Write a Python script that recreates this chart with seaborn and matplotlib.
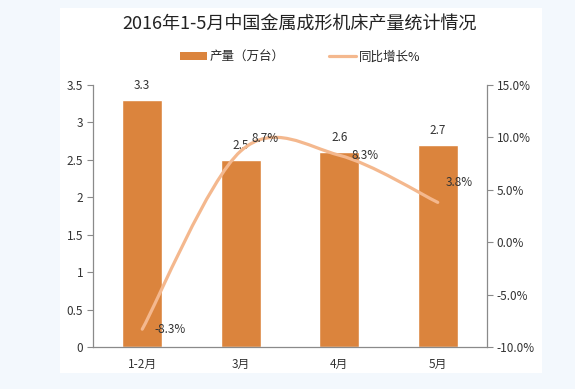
import numpy as np
import pandas as pd
import seaborn as sns
import matplotlib.pyplot as plt
from matplotlib.path import Path
from matplotlib.patches import PathPatch, Patch, Rectangle
from matplotlib.lines import Line2D

months = ['1-2月', '3月', '4月', '5月']
output = [3.3, 2.5, 2.6, 2.7]
growth = [-8.3, 8.7, 8.3, 3.8]

bar_color = '#db843d'
line_color = '#f4b88e'
axis_color = '#8a8a8a'

sns.set_theme(style='white')
plt.rcParams['font.family'] = ['Noto Sans CJK SC', 'DejaVu Sans']


def smooth_path(xs, ys):
    # excel-like smoothed line: catmull-rom segments as cubic beziers
    pts = np.column_stack([xs, ys]).astype(float)
    ext = np.vstack([pts[0], pts, pts[-1]])
    verts = [pts[0]]
    codes = [Path.MOVETO]
    for i in range(len(pts) - 1):
        p0, p1, p2, p3 = ext[i], ext[i + 1], ext[i + 2], ext[i + 3]
        verts += [p1 + (p2 - p0) / 6, p2 - (p3 - p1) / 6, p2]
        codes += [Path.CURVE4] * 3
    return Path(verts, codes)


fig = plt.figure(figsize=(5.75, 3.89), dpi=100, facecolor='#f3f8fd')
fig.patches.append(Rectangle((60 / 575, 1 - 373 / 389), 482 / 575, 365 / 389,
                             transform=fig.transFigure, facecolor='white',
                             edgecolor='none', zorder=-10))
ax = fig.add_axes([93 / 575, 1 - 347 / 389, 394 / 575, 262 / 389])
ax.set_facecolor('none')

df = pd.DataFrame({'month': months, 'output': output})
sns.barplot(data=df, x='month', y='output', color=bar_color, width=0.41,
            saturation=1, ax=ax)
ax.set_xlim(-0.5, 3.5)
ax.set_ylim(0, 3.5)
ax.set_yticks(np.arange(0, 3.51, 0.5))
ax.set_yticklabels(['0', '0.5', '1', '1.5', '2', '2.5', '3', '3.5'])
ax.set_xlabel('')
ax.set_ylabel('')
for i, v in enumerate(output):
    ax.annotate(f'{v}', (i, v), xytext=(0, 6), textcoords='offset points',
                ha='center', va='bottom', fontsize=8.5, color='#333333')

ax2 = ax.twinx()
ax2.set_ylim(-10, 15)
ax2.set_yticks(np.arange(-10, 15.1, 5))
ax2.set_yticklabels([f'{v:.1f}%' for v in np.arange(-10, 15.1, 5)])
ax2.add_patch(PathPatch(smooth_path(range(len(growth)), growth),
                        facecolor='none', edgecolor=line_color, lw=2.3,
                        capstyle='round', zorder=3))
offsets = [(9, 0), (8, 9), (9, 0), (6, 14)]
for i, (v, off) in enumerate(zip(growth, offsets)):
    ax2.annotate(f'{v}%', (i, v), xytext=off, textcoords='offset points',
                 ha='left', va='center', fontsize=8.5, color='#333333')

for a in (ax, ax2):
    for s in a.spines.values():
        s.set_visible(False)
    a.tick_params(axis='both', labelsize=8.5, colors='#333333',
                  length=4, width=0.8, direction='out')
    a.tick_params(axis='both', color=axis_color)
ax.spines['left'].set_visible(True)
ax.spines['bottom'].set_visible(True)
ax2.spines['right'].set_visible(True)
for s in (ax.spines['left'], ax.spines['bottom'], ax2.spines['right']):
    s.set_color(axis_color)
    s.set_linewidth(0.9)
ax.set_xticks(np.arange(-0.5, 3.6, 1), minor=True)
ax.tick_params(axis='x', which='major', length=0, pad=8)
ax.tick_params(axis='x', which='minor', length=4, color=axis_color)
ax.tick_params(axis='y', left=True, pad=3)
ax2.tick_params(axis='y', right=True, pad=3)

fig.text(300 / 575, 1 - 24 / 389, '2016年1-5月中国金属成形机床产量统计情况',
         ha='center', va='center', fontsize=13, color='#222222')
handles = [Patch(facecolor=bar_color, edgecolor='none'),
           Line2D([], [], color=line_color, lw=2.3)]
fig.legend(handles, ['产量（万台）', '同比增长%'], loc='center',
           bbox_to_anchor=(300 / 575, 1 - 57 / 389), ncol=2, frameon=False,
           fontsize=9, handlelength=2.2, handleheight=0.6, handletextpad=0.2,
           columnspacing=3.5)

fig.savefig('out.png', dpi=100, facecolor=fig.get_facecolor())
